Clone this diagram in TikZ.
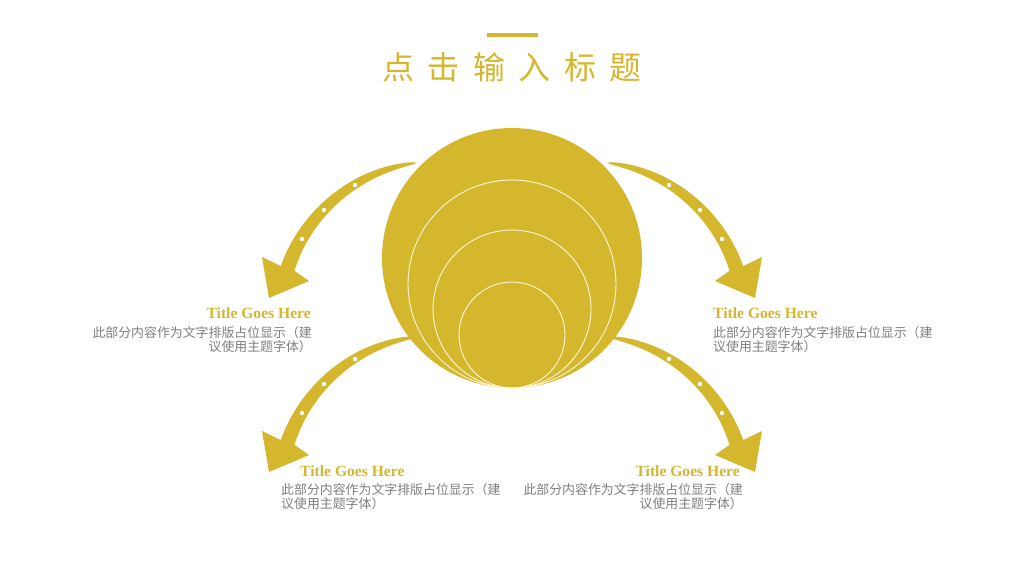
\documentclass[tikz,border=0pt]{standalone}
\usepackage{fontspec}
\setmainfont{Liberation Serif}
\newfontfamily\cjk{Noto Sans CJK SC}
\definecolor{gold}{RGB}{213,183,45}
\definecolor{txtgray}{RGB}{128,128,128}
\definecolor{ringline}{RGB}{255,248,215}
\newcommand\goldarrow{%
  \fill[gold] plot[domain=0:1, samples=40, variable=\t]
      ({437+(157.5+7.5*sqrt(\t))*cos(-97.3-64*\t)}, {319+(157.5+7.5*sqrt(\t))*sin(-97.3-64*\t)})
    -- (262,257) -- (269,298) -- (309,281)
    -- plot[domain=1:0, samples=40, variable=\t]
      ({437+(157.5-7*sqrt(\t))*cos(-97.3-64*\t)}, {319+(157.5-7*sqrt(\t))*sin(-97.3-64*\t)})
    -- cycle;
  \fill[white] (355,185) circle[radius=2.2pt] (324,210) circle[radius=2.2pt] (302,239) circle[radius=2.2pt];
}
\tikzset{
  ttl/.style={font=\bfseries\fontsize{15.6}{15.6}\selectfont, text=gold, inner sep=0pt},
  body/.style={font=\cjk\fontsize{12.9}{14.5}\selectfont, text=txtgray, inner sep=0pt},
  ring/.style={draw=ringline, line width=0.9pt}
}
\begin{document}
\begin{tikzpicture}[x=1pt,y=-1pt]
\fill[white] (0,0) rectangle (1024,576);
\useasboundingbox (0,0) rectangle (1024,576);
% header
\fill[gold] (487,33) rectangle (538,37);
\node[font=\cjk\fontsize{32}{32}\selectfont, text=gold, inner sep=0pt] (title) at (512,67)
  {点\hspace{13.4pt}击\hspace{13.4pt}输\hspace{13.4pt}入\hspace{13.4pt}标\hspace{13.4pt}题};
% arrows
\goldarrow
\begin{scope}[yshift=-174pt]\goldarrow\end{scope}
\begin{scope}[xshift=1024pt,xscale=-1]\goldarrow\end{scope}
\begin{scope}[xshift=1024pt,yshift=-174pt,xscale=-1]\goldarrow\end{scope}
% circles
\fill[gold] (512,258) circle[radius=130pt];
\draw[ring] (512,284) circle[radius=104pt];
\draw[ring] (512,309) circle[radius=79pt];
\draw[ring] (512,335) circle[radius=53pt];
% texts
\node[ttl, anchor=base east] (t1) at (311,318) {Title Goes Here};
\node[body, anchor=north east, align=right] (b1) at (312,326) {此部分内容作为文字排版占位显示（建\\议使用主题字体）};
\node[ttl, anchor=base west] (t2) at (713,318) {Title Goes Here};
\node[body, anchor=north west, align=left] (b2) at (713,326) {此部分内容作为文字排版占位显示（建\\议使用主题字体）};
\node[ttl, anchor=base west] (t3) at (300,476) {Title Goes Here};
\node[body, anchor=north west, align=left] (b3) at (281,483) {此部分内容作为文字排版占位显示（建\\议使用主题字体）};
\node[ttl, anchor=base east] (t4) at (740,476) {Title Goes Here};
\node[body, anchor=north east, align=right] (b4) at (743,483) {此部分内容作为文字排版占位显示（建\\议使用主题字体）};
\end{tikzpicture}
\end{document}
